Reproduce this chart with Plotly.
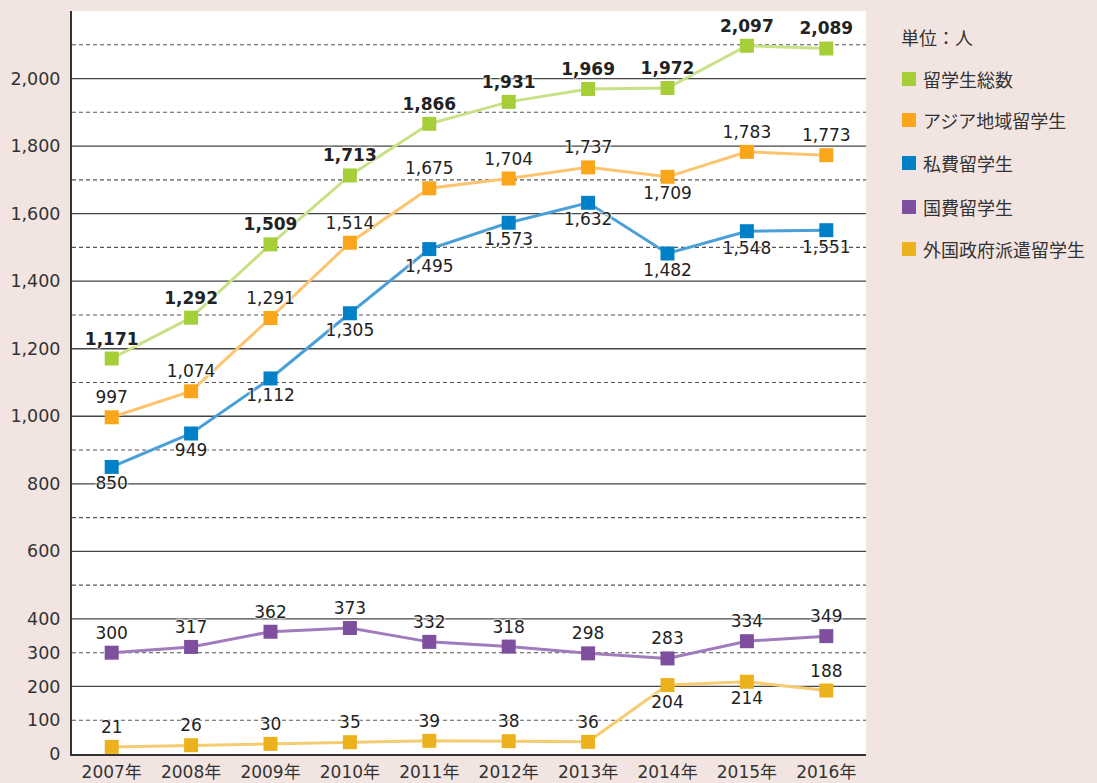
import plotly.graph_objects as go

years = ["2007年", "2008年", "2009年", "2010年", "2011年", "2012年", "2013年", "2014年", "2015年", "2016年"]
total = [1171, 1292, 1509, 1713, 1866, 1931, 1969, 1972, 2097, 2089]
asia = [997, 1074, 1291, 1514, 1675, 1704, 1737, 1709, 1783, 1773]
private = [850, 949, 1112, 1305, 1495, 1573, 1632, 1482, 1548, 1551]
govt = [300, 317, 362, 373, 332, 318, 298, 283, 334, 349]
foreign = [21, 26, 30, 35, 39, 38, 36, 204, 214, 188]

names = ["留学生総数", "アジア地域留学生", "私費留学生", "国費留学生", "外国政府派遣留学生"]
tick_vals = [0, 100, 200, 300, 400, 600, 800, 1000, 1200, 1400, 1600, 1800, 2000]
tick_text = ["0", "100", "200", "300", "400", "600", "800", "1,000", "1,200", "1,400", "1,600", "1,800", "2,000"]

marker_colors = ["#a6ce39", "#f9a61b", "#0080c6", "#7f4f9f", "#ebb21d"]
line_colors = ["#c8e185", "#fcc46f", "#4a9fd8", "#a07cbd", "#f5cc70"]

T, B = "top center", "bottom center"
positions = [
    [T] * 10,
    [T] * 7 + [B] + [T] * 2,
    [B] * 10,
    [T] * 10,
    [T] * 7 + [B, B, T],
]
series = [total, asia, private, govt, foreign]

FONT = "DejaVu Sans, Noto Sans CJK JP, sans-serif"
CJK = "Noto Sans CJK JP, sans-serif"
BG = "#f2e5e1"

fig = go.Figure()
order = [4, 3, 2, 1, 0]
for i in order:
    fig.add_trace(go.Scatter(
        x=years, y=series[i], mode="lines+markers+text", name=names[i],
        line=dict(color=line_colors[i], width=3),
        marker=dict(symbol="square", size=14, color=marker_colors[i]),
        text=[f"{v:,}" for v in series[i]],
        textposition=positions[i],
        textfont=dict(size=17, color="#222222", family=FONT,
                      weight="bold" if i == 0 else "normal",
                      shadow="0px 0px 3px white, 0px 0px 3px white, 0px 0px 2px white"),
        showlegend=False, cliponaxis=False,
    ))

shapes = []
for v in range(100, 2200, 100):
    if v % 200 == 0:
        shapes.append(dict(type="line", xref="paper", yref="y", x0=0, x1=1, y0=v, y1=v,
                           line=dict(color="#444444", width=1.3), layer="below"))
    else:
        shapes.append(dict(type="line", xref="paper", yref="y", x0=0, x1=1, y0=v, y1=v,
                           line=dict(color="#555555", width=1.1, dash="4px,3px"), layer="below"))

L, R, Tm, Bm = 72, 231, 11, 29
W, H = 1097 - L - R, 783 - Tm - Bm
def px_x(p):
    return (p - L) / W
def px_y(p):
    return 1 - (p - Tm) / H

annotations = [dict(xref="paper", yref="paper", x=px_x(899), y=px_y(37), text="単位：人",
                    showarrow=False, xanchor="left", yanchor="middle",
                    font=dict(size=18, color="#333333", family=CJK))]
rows = [79, 120, 163, 207, 249]
for k in range(5):
    yc = rows[k]
    shapes.append(dict(type="rect", xref="paper", yref="paper",
                       x0=px_x(902), x1=px_x(916), y0=px_y(yc - 7), y1=px_y(yc + 7),
                       fillcolor=marker_colors[k], line=dict(width=0)))
    annotations.append(dict(xref="paper", yref="paper", x=px_x(921), y=px_y(yc), text=names[k],
                            showarrow=False, xanchor="left", yanchor="middle",
                            font=dict(size=18, color="#333333", family=CJK)))

fig.update_layout(
    width=1097, height=783,
    margin=dict(l=L, r=R, t=Tm, b=Bm, autoexpand=False),
    paper_bgcolor=BG, plot_bgcolor="white",
    shapes=shapes, annotations=annotations,
    font=dict(family=FONT, color="#333333", size=17),
    xaxis=dict(range=[-0.5, 9.5], showgrid=False, ticks="", showline=True, automargin=False,
               linecolor="#333333", linewidth=2, tickfont=dict(size=17, color="#333333", family=FONT),
               ticklabelstandoff=2, fixedrange=True),
    yaxis=dict(range=[0, 2200], tickvals=tick_vals, ticktext=tick_text, showgrid=False, automargin=False,
               zeroline=False, showline=True, linecolor="#333333", linewidth=2, ticks="",
               tickfont=dict(size=17.5, color="#333333", family=FONT), ticklabelstandoff=6),
)

fig.write_html("out.html", config={"displayModeBar": False}, post_script=(
    "document.body.style.margin='0';document.body.style.padding='0';"
    "document.body.style.background='" + BG + "';document.body.style.overflow='hidden';"))
